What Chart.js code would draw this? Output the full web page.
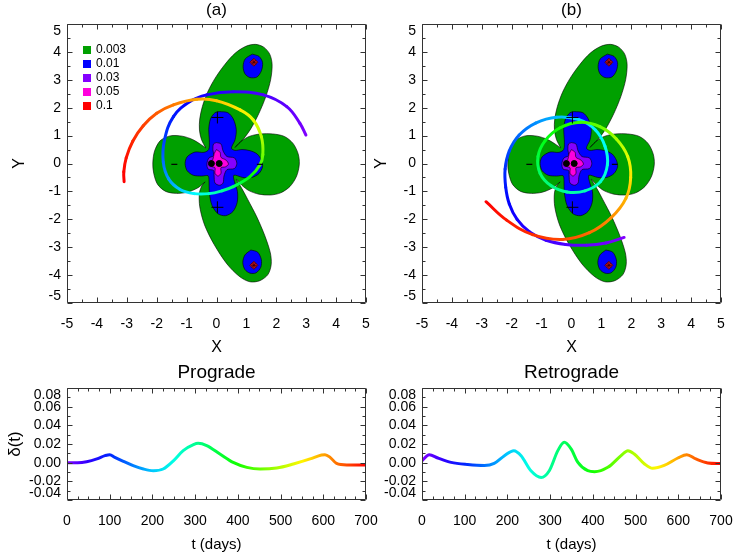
<!DOCTYPE html>
<html>
<head>
<meta charset="utf-8">
<script src="https://cdn.jsdelivr.net/npm/chart.js@4.4.1/dist/chart.umd.min.js"></script>
<style>
  body { margin: 0; background: #fff; }
  #page { position: relative; width: 734px; height: 552px; overflow: hidden; }
  #page canvas { position: absolute; }
</style>
</head>
<body>
<div id="page">
  <canvas id="orbit-a" width="380" height="367" style="left:0;top:0"></canvas>
  <canvas id="orbit-b" width="379" height="367" style="left:355px;top:0"></canvas>
  <canvas id="delta-pro" width="380" height="192" style="left:0;top:360px"></canvas>
  <canvas id="delta-retro" width="379" height="192" style="left:355px;top:360px"></canvas>
</div>
<script>
// contour levels
const levels = ["0.003", "0.01", "0.03", "0.05", "0.1"]
const level_colors = ["#00a000", "#0000ff", "#8400ff", "#ff00dd", "#ff0000"]

// contour outlines (x, y)
const green_x = [-0.36, -0.50, -0.57, -0.56, -0.47, -0.30, -0.05, 0.28, 0.62, 0.98, 1.30, 1.58, 1.78, 1.86, 1.81, 1.65, 1.42, 1.15, 0.90, 0.62,
  0.85, 1.12, 1.48, 1.88, 2.27, 2.56, 2.73, 2.77, 2.68, 2.46, 2.15, 1.80, 1.42, 1.08, 0.85, 0.66,
  0.85, 1.05, 1.35, 1.62, 1.80, 1.83, 1.72, 1.45, 1.12, 0.78, 0.35, -0.08, -0.40, -0.56, -0.57, -0.48, -0.38,
  -0.62, -0.98, -1.35, -1.70, -1.97, -2.10, -2.13, -2.07, -1.88, -1.55, -1.15, -0.80, -0.55, -0.36]
const green_y = [0.56, 0.85, 1.20, 1.60, 2.05, 2.55, 3.05, 3.55, 3.95, 4.20, 4.27, 4.17, 3.92, 3.55, 3.00, 2.40, 1.80, 1.25, 0.88, 0.58,
  0.82, 0.98, 1.06, 1.06, 0.97, 0.72, 0.35, -0.02, -0.45, -0.82, -1.05, -1.13, -1.10, -0.97, -0.78, -0.56,
  -0.90, -1.30, -1.92, -2.60, -3.20, -3.62, -3.98, -4.20, -4.24, -4.06, -3.60, -2.90, -2.20, -1.55, -1.05, -0.78, -0.66,
  -0.87, -1.03, -1.07, -1.00, -0.75, -0.35, 0.02, 0.45, 0.82, 0.99, 0.98, 0.86, 0.70, 0.56]
const blue_x = [0.10, 0.38, 0.56, 0.66, 0.62, 0.50, 0.62, 0.85, 1.12, 1.36, 1.50, 1.54, 1.42, 1.18, 0.88, 0.58, 0.60, 0.70, 0.69, 0.55,
  0.30, 0.05, -0.15, -0.24, -0.25, -0.28, -0.50, -0.78, -0.98, -1.05, -0.98, -0.72, -0.42, -0.26, -0.24, -0.26, -0.20, -0.05, 0.10]
const blue_y = [1.86, 1.82, 1.60, 1.22, 0.85, 0.55, 0.47, 0.50, 0.46, 0.34, 0.12, -0.12, -0.36, -0.50, -0.50, -0.42, -0.65, -1.00, -1.40, -1.72,
  -1.87, -1.80, -1.50, -1.05, -0.62, -0.44, -0.45, -0.42, -0.26, 0.00, 0.24, 0.41, 0.40, 0.50, 0.85, 1.22, 1.60, 1.82, 1.86]
const blue_north_x = [1.20, 1.42, 1.54, 1.50, 1.35, 1.12, 0.95, 0.89, 0.96, 1.20]
const blue_north_y = [3.92, 3.84, 3.62, 3.32, 3.10, 3.08, 3.22, 3.48, 3.75, 3.92]
const blue_south_x = [1.15, 1.38, 1.50, 1.48, 1.32, 1.12, 0.95, 0.88, 0.95, 1.15]
const blue_south_y = [-3.10, -3.18, -3.45, -3.72, -3.92, -3.93, -3.80, -3.55, -3.28, -3.10]
const purple_x = [0.00, 0.15, 0.22, 0.35, 0.60, 0.68, 0.60, 0.35, 0.25, 0.22, 0.10, -0.05, -0.08, -0.10, -0.28, -0.32, -0.25, -0.10, -0.12, -0.10, 0.00]
const purple_y = [0.75, 0.70, 0.45, 0.25, 0.20, 0.00, -0.18, -0.22, -0.45, -0.70, -0.78, -0.70, -0.45, -0.25, -0.20, 0.00, 0.20, 0.28, 0.50, 0.70, 0.75]
const magenta_x = [0.00, 0.12, 0.15, 0.32, 0.40, 0.30, 0.15, 0.15, 0.05, -0.05, -0.05, -0.18, -0.22, -0.12, -0.08, 0.00]
const magenta_y = [0.50, 0.40, 0.22, 0.12, -0.02, -0.12, -0.15, -0.35, -0.45, -0.35, -0.15, -0.10, 0.05, 0.15, 0.35, 0.50]

// markers
const plus_x = [0.03, 0.03]
const plus_y = [1.65, -1.57]
const minus_x = [-1.41, 1.45]
const minus_y = [-0.03, -0.03]
const dot_x = [-0.17, 0.09]
const dot_y = [0.0, 0.0]
const star_x = [1.25, 1.25]
const star_y = [3.63, -3.65]

// orbits: time (days), x, y
const pro_t = [0, 10, 20, 32, 47, 62, 75, 92, 115, 145, 172, 200, 230, 260, 295, 325, 385, 430, 460, 500, 530, 555, 580, 600, 625, 645, 662, 677, 690, 697, 700]
const pro_x = [2.99, 2.79, 2.35, 1.57, 0.56, -0.33, -0.89, -1.44, -1.74, -1.78, -1.60, -1.22, -0.75, -0.25, 0.18, 0.56, 1.12, 1.45, 1.55, 1.50, 1.23, 0.79, 0.00, -0.66, -1.44, -2.00, -2.45, -2.80, -3.02, -3.10, -3.09]
const pro_y = [1.02, 1.44, 2.04, 2.46, 2.57, 2.46, 2.22, 1.68, 0.84, 0.05, -0.55, -0.93, -1.08, -1.08, -0.98, -0.83, -0.47, -0.05, 0.32, 0.96, 1.56, 1.92, 2.25, 2.30, 2.10, 1.80, 1.35, 0.80, 0.20, -0.30, -0.65]
const retro_t = [0, 10, 20, 30, 40, 52, 64, 76, 90, 105, 122, 142, 165, 190, 212, 228, 240, 252, 264, 278, 292, 310, 330, 352, 376, 400, 425, 455, 490, 525, 560, 590, 615, 635, 655, 672, 686, 700]
const retro_x = [1.76, 1.15, 0.50, -0.20, -0.85, -1.40, -1.82, -2.08, -2.20, -2.22, -2.08, -1.75, -1.20, -0.50, 0.25, 0.80, 1.12, 1.20, 0.97, 0.45, -0.15, -0.68, -1.05, -1.12, -0.88, -0.38, 0.30, 0.95, 1.50, 1.88, 1.98, 1.82, 1.32, 0.60, -0.30, -1.30, -2.17, -2.86]
const retro_y = [-2.65, -2.85, -2.93, -2.90, -2.75, -2.45, -2.00, -1.45, -0.85, -0.20, 0.45, 1.02, 1.45, 1.66, 1.57, 1.20, 0.62, -0.05, -0.65, -0.98, -1.02, -0.80, -0.35, 0.25, 0.82, 1.28, 1.48, 1.32, 0.88, 0.25, -0.50, -1.25, -1.95, -2.48, -2.72, -2.55, -2.03, -1.37]

// delta(t) curves
const days_pro = [0, 25, 46, 70, 89, 100, 112, 132, 155, 179, 202, 225, 249, 272, 296, 307, 327, 358, 389, 421, 452, 491, 530, 569, 596, 604, 616, 631, 655, 690, 700]
const delta_pro = [0.000, 0.000, 0.001, 0.004, 0.0075, 0.0086, 0.0057, 0.0014, -0.0032, -0.0068, -0.0086, -0.0068, 0.002, 0.0129, 0.0193, 0.0207, 0.0183, 0.0093, 0.0003, -0.005, -0.0068, -0.0057, -0.0014, 0.004, 0.0083, 0.0086, 0.0057, -0.0008, -0.0025, -0.0025, -0.0025]
const days_retro = [0, 17, 37, 68, 107, 146, 169, 193, 215, 232, 255, 279, 298, 318, 333, 349, 365, 388, 404, 435, 466, 482, 497, 521, 540, 567, 599, 620, 641, 669, 700]
const delta_retro = [0.002, 0.0086, 0.005, 0.0003, -0.002, -0.003, -0.0008, 0.0075, 0.0129, 0.0075, -0.0086, -0.0158, -0.0086, 0.0129, 0.0218, 0.0147, 0.0003, -0.0086, -0.0097, -0.005, 0.0075, 0.0129, 0.0093, -0.0014, -0.0061, -0.003, 0.005, 0.0086, 0.004, -0.0003, -0.001]

const t_end = 700

Chart.defaults.font.family = '"Liberation Sans", Arial, Helvetica, sans-serif'
Chart.defaults.color = "#000"
Chart.defaults.animation = false

function rainbow (t) {
    return `hsl(${270 * (1 - t / t_end)}, 100%, 50%)`
}

function points (xs, ys) {
    return xs.map((x, i) => ({x: x, y: ys[i]}))
}

// end labels of a vertical axis are pulled inside the box
function end_label (index, count, text) {
    if (index === count - 1) return ["", text]
    if (index === 0) return [text, ""]
    return text
}

// fixed axis sizes so every panel has the same plot box
function fix_x (height) {
    return s => { s.height = height; s.paddingLeft = 0; s.paddingRight = 0 }
}
function fix_y (width) {
    return s => { s.width = width; s.paddingTop = 0; s.paddingBottom = 0 }
}

// box round the plot with inner ticks on all four sides
const frame_ticks = {
    id: "frame_ticks",
    afterDraw (chart, args, opts) {
        let ctx = chart.ctx
        let a = chart.chartArea
        let marks = (scale, minor, major, draw) => {
            let n = Math.round((scale.max - scale.min) / minor)
            for (let i = 0; i <= n; i++) {
                let v = scale.min + i * minor
                let len = Math.abs(v / major - Math.round(v / major)) < 1e-6 ? 5 : 3
                draw(Math.round(scale.getPixelForValue(v)) + 0.5, len)
            }
        }
        ctx.save()
        ctx.strokeStyle = "#333"
        ctx.lineWidth = 1
        let l = Math.round(a.left) + 0.5, r = Math.round(a.right) - 0.5
        let t = Math.round(a.top) + 0.5, b = Math.round(a.bottom) - 0.5
        ctx.beginPath()
        ctx.rect(l, t, r - l, b - t)
        marks(chart.scales.x, opts.x_minor, opts.x_major, (p, len) => {
            ctx.moveTo(p, b); ctx.lineTo(p, b - len)
            ctx.moveTo(p, t); ctx.lineTo(p, t + len)
        })
        marks(chart.scales.y, opts.y_minor, opts.y_major, (p, len) => {
            ctx.moveTo(l, p); ctx.lineTo(l + len, p)
            ctx.moveTo(r, p); ctx.lineTo(r - len, p)
        })
        ctx.stroke()
        ctx.restore()
    }
}

// colour key of the contour levels, top left inside panel (a)
const level_key = {
    id: "level_key",
    afterDraw (chart, args, opts) {
        if (!opts.show) return
        let ctx = chart.ctx
        let a = chart.chartArea
        ctx.save()
        ctx.font = '12px "Liberation Sans", Arial, sans-serif'
        ctx.textBaseline = "middle"
        levels.forEach((label, i) => {
            let yy = a.top + 26 + i * 14
            ctx.fillStyle = level_colors[i]
            ctx.fillRect(a.left + 16, yy - 4, 8, 8)
            ctx.fillStyle = "#000"
            ctx.fillText(label, a.left + 29, yy)
        })
        ctx.restore()
    }
}

function contour_sets () {
    let shapes = [
        [green_x, green_y, 0], [blue_x, blue_y, 1], [blue_north_x, blue_north_y, 1],
        [blue_south_x, blue_south_y, 1], [purple_x, purple_y, 2], [magenta_x, magenta_y, 3]
    ]
    return shapes.map((s, i) => ({
        data: points(s[0], s[1]),
        showLine: true,
        fill: "shape",
        tension: 0.3,
        backgroundColor: level_colors[s[2]],
        borderColor: "#000",
        borderWidth: 0.6,
        pointRadius: 0,
        order: 20 - i
    }))
}

function marker_sets () {
    return [
        {data: points(plus_x, plus_y), pointStyle: "cross", pointRadius: 6, borderColor: "#000", borderWidth: 1, order: 2},
        {data: points(minus_x, minus_y), pointStyle: "line", pointRadius: 3, borderColor: "#000", borderWidth: 1.2, order: 2},
        {data: points(dot_x, dot_y), pointStyle: "circle", pointRadius: 3, backgroundColor: "#000", borderColor: "#000", order: 2},
        {data: points(star_x, star_y), pointStyle: "rectRot", pointRadius: 4, backgroundColor: "#e8102a", borderColor: "#400", borderWidth: 0.8, order: 1},
        {data: points(star_x, star_y), pointStyle: "star", pointRadius: 3, borderColor: "#300", borderWidth: 0.8, order: 0}
    ]
}

function orbit_chart (config) {
    let canvas = document.getElementById(config.id)
    let ctx2d = canvas.getContext("2d")
    let times = config.t
    let orbit = {
        data: points(config.x, config.y),
        showLine: true,
        fill: false,
        tension: 0.4,
        pointRadius: 0,
        borderWidth: 3,
        borderCapStyle: "round",
        borderColor: rainbow(0),
        segment: {
            borderColor: c => {
                let g = ctx2d.createLinearGradient(c.p0.x, c.p0.y, c.p1.x, c.p1.y)
                g.addColorStop(0, rainbow(times[c.p0DataIndex]))
                g.addColorStop(1, rainbow(times[c.p1DataIndex]))
                return g
            }
        },
        order: 5
    }
    return new Chart(canvas, {
        type: "scatter",
        data: {datasets: contour_sets().concat([orbit], marker_sets())},
        options: {
            responsive: false,
            events: [],
            layout: {padding: {left: 0, right: config.right_pad, top: 0, bottom: 0}},
            scales: {
                x: {
                    type: "linear", min: -5, max: 5,
                    grid: {display: false, drawTicks: false}, border: {display: false},
                    ticks: {stepSize: 1, padding: 14, maxRotation: 0, autoSkip: false, font: {size: 14, lineHeight: 1}},
                    title: {display: true, text: "X", font: {size: 16}, padding: {top: 0, bottom: 10}},
                    afterFit: fix_x(64)
                },
                y: {
                    type: "linear", min: -5, max: 5,
                    grid: {display: false, drawTicks: false}, border: {display: false},
                    ticks: {stepSize: 1, padding: 6, autoSkip: false, font: {size: 14, lineHeight: 1},
                        callback: (v, i, ticks) => end_label(i, ticks.length, String(v))},
                    title: {display: true, text: "Y", font: {size: 16}, padding: {top: config.y_title_pad, bottom: 0}},
                    afterFit: fix_y(67)
                }
            },
            plugins: {
                legend: {display: false},
                tooltip: {enabled: false},
                title: {display: true, text: config.letter, fullSize: false, font: {size: 17, weight: "normal"}, padding: {top: 0, bottom: 3.6}},
                frame_ticks: {x_minor: 0.5, x_major: 1, y_minor: 0.5, y_major: 1},
                level_key: {show: config.key}
            }
        },
        plugins: [frame_ticks, level_key]
    })
}

function delta_chart (config) {
    let canvas = document.getElementById(config.id)
    let series = {
        data: points(config.days, config.delta),
        showLine: true,
        fill: false,
        cubicInterpolationMode: "monotone",
        pointRadius: 0,
        borderWidth: 3,
        borderCapStyle: "round",
        borderColor: c => {
            let a = c.chart.chartArea
            if (!a) return rainbow(0)
            let x = c.chart.scales.x
            let g = c.chart.ctx.createLinearGradient(x.getPixelForValue(0), 0, x.getPixelForValue(t_end), 0)
            for (let k = 0; k <= 14; k++) g.addColorStop(k / 14, rainbow(t_end * k / 14))
            return g
        }
    }
    return new Chart(canvas, {
        type: "scatter",
        data: {datasets: [series]},
        options: {
            responsive: false,
            events: [],
            layout: {padding: {left: 0, right: config.right_pad, top: 0, bottom: 0}},
            scales: {
                x: {
                    type: "linear", min: 0, max: 700,
                    grid: {display: false, drawTicks: false}, border: {display: false},
                    ticks: {stepSize: 100, padding: 14, maxRotation: 0, autoSkip: false, font: {size: 14, lineHeight: 1}},
                    title: {display: true, text: "t (days)", font: {size: 15, lineHeight: 1}, padding: {top: 0, bottom: 0}},
                    afterFit: fix_x(52)
                },
                y: {
                    type: "linear", min: -0.04, max: 0.08,
                    grid: {display: false, drawTicks: false}, border: {display: false},
                    ticks: {stepSize: 0.02, padding: 6, autoSkip: false, font: {size: 14, lineHeight: 1},
                        callback: (v, i, ticks) => {
                            let s = Math.abs(v) < 1e-9 ? "0.00" : v.toFixed(2)
                            return end_label(i, ticks.length, s)
                        }},
                    title: {display: config.y_title, text: "δ(t)", font: {size: 17}, padding: {top: 5, bottom: 0}},
                    afterFit: fix_y(67)
                }
            },
            plugins: {
                legend: {display: false},
                tooltip: {enabled: false},
                title: {display: true, text: config.title, fullSize: false, font: {size: 19, weight: "normal"}, padding: {top: 1, bottom: 4.2}},
                frame_ticks: {x_minor: 25, x_major: 100, y_minor: 0.01, y_major: 0.02}
            }
        },
        plugins: [frame_ticks]
    })
}

orbit_chart({id: "orbit-a", letter: "(a)", t: pro_t, x: pro_x, y: pro_y, right_pad: 14, y_title_pad: 10, key: true})
orbit_chart({id: "orbit-b", letter: "(b)", t: retro_t, x: retro_x, y: retro_y, right_pad: 13, y_title_pad: 17, key: false})
delta_chart({id: "delta-pro", title: "Prograde", days: days_pro, delta: delta_pro, right_pad: 14, y_title: true})
delta_chart({id: "delta-retro", title: "Retrograde", days: days_retro, delta: delta_retro, right_pad: 13, y_title: false})
</script>
</body>
</html>
